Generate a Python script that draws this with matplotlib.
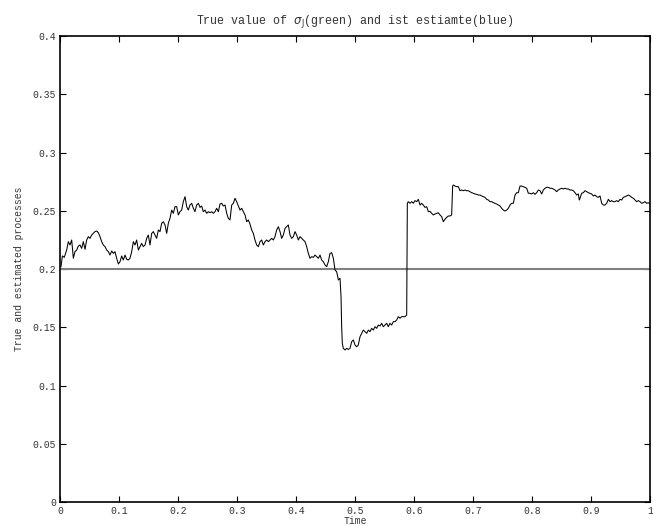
import numpy as np
import matplotlib
matplotlib.use("Agg")
import matplotlib.pyplot as plt

# true value of sigma_J (constant)
sigma_true = 0.2

# estimated sigma_J
t_est = [0.0017, 0.0040, 0.0073, 0.0113, 0.0141, 0.0169, 0.0198, 0.0226, 0.0254, 0.0282,
         0.0311, 0.0339, 0.0367, 0.0395, 0.0424, 0.0452, 0.0480, 0.0508, 0.0537, 0.0565,
         0.0593, 0.0621, 0.0650, 0.0678, 0.0706, 0.0734, 0.0763, 0.0791, 0.0819, 0.0847,
         0.0876, 0.0904, 0.0932, 0.0960, 0.0989, 0.1017, 0.1045, 0.1073, 0.1102, 0.1130,
         0.1158, 0.1186, 0.1215, 0.1243, 0.1271, 0.1299, 0.1328, 0.1356, 0.1384, 0.1412,
         0.1441, 0.1469, 0.1497, 0.1525, 0.1554, 0.1582, 0.1610, 0.1638, 0.1667, 0.1695,
         0.1723, 0.1751, 0.1780, 0.1808, 0.1836, 0.1864, 0.1893, 0.1921, 0.1949, 0.1977,
         0.2006, 0.2034, 0.2062, 0.2090, 0.2119, 0.2147, 0.2175, 0.2203, 0.2232, 0.2260,
         0.2288, 0.2316, 0.2345, 0.2373, 0.2401, 0.2429, 0.2458, 0.2486, 0.2514, 0.2542,
         0.2571, 0.2599, 0.2627, 0.2655, 0.2684, 0.2712, 0.2740, 0.2768, 0.2797, 0.2825,
         0.2853, 0.2881, 0.2910, 0.2938, 0.2966, 0.2994, 0.3023, 0.3051, 0.3079, 0.3107,
         0.3136, 0.3164, 0.3192, 0.3220, 0.3249, 0.3277, 0.3305, 0.3333, 0.3362, 0.3390,
         0.3418, 0.3446, 0.3475, 0.3503, 0.3531, 0.3559, 0.3588, 0.3616, 0.3644, 0.3672,
         0.3701, 0.3729, 0.3757, 0.3785, 0.3814, 0.3842, 0.3870, 0.3898, 0.3927, 0.3955,
         0.3983, 0.4011, 0.4040, 0.4068, 0.4096, 0.4124, 0.4153, 0.4181, 0.4209, 0.4237,
         0.4266, 0.4294, 0.4322, 0.4350, 0.4379, 0.4407, 0.4435, 0.4463, 0.4492, 0.4520,
         0.4548, 0.4576, 0.4605, 0.4633, 0.4661, 0.4689, 0.4718, 0.4746, 0.4763, 0.4774,
         0.4785, 0.4802, 0.4831, 0.4859, 0.4887, 0.4915, 0.4944, 0.4972, 0.5000, 0.5028,
         0.5056, 0.5085, 0.5113, 0.5141, 0.5169, 0.5198, 0.5226, 0.5254, 0.5282, 0.5311,
         0.5339, 0.5367, 0.5395, 0.5424, 0.5452, 0.5480, 0.5508, 0.5537, 0.5565, 0.5593,
         0.5621, 0.5650, 0.5678, 0.5706, 0.5734, 0.5763, 0.5791, 0.5819, 0.5847, 0.5876,
         0.5887, 0.5904, 0.5932, 0.5960, 0.5989, 0.6017, 0.6045, 0.6073, 0.6102, 0.6130,
         0.6158, 0.6186, 0.6215, 0.6243, 0.6271, 0.6299, 0.6328, 0.6356, 0.6384, 0.6412,
         0.6441, 0.6469, 0.6497, 0.6525, 0.6554, 0.6582, 0.6610, 0.6638, 0.6655, 0.6667,
         0.6695, 0.6723, 0.6751, 0.6780, 0.6808, 0.6836, 0.6864, 0.6893, 0.6921, 0.6949,
         0.6977, 0.7006, 0.7034, 0.7062, 0.7090, 0.7119, 0.7147, 0.7175, 0.7203, 0.7232,
         0.7260, 0.7288, 0.7316, 0.7345, 0.7373, 0.7401, 0.7429, 0.7458, 0.7486, 0.7514,
         0.7542, 0.7571, 0.7599, 0.7627, 0.7655, 0.7684, 0.7712, 0.7740, 0.7768, 0.7797,
         0.7825, 0.7853, 0.7881, 0.7910, 0.7938, 0.7966, 0.7994, 0.8023, 0.8051, 0.8079,
         0.8107, 0.8136, 0.8164, 0.8192, 0.8220, 0.8249, 0.8277, 0.8305, 0.8333, 0.8362,
         0.8390, 0.8418, 0.8446, 0.8475, 0.8503, 0.8531, 0.8559, 0.8588, 0.8616, 0.8644,
         0.8672, 0.8701, 0.8729, 0.8757, 0.8785, 0.8802, 0.8814, 0.8842, 0.8870, 0.8898,
         0.8927, 0.8955, 0.8983, 0.9011, 0.9040, 0.9068, 0.9096, 0.9124, 0.9153, 0.9181,
         0.9209, 0.9237, 0.9266, 0.9294, 0.9322, 0.9350, 0.9379, 0.9407, 0.9435, 0.9463,
         0.9492, 0.9520, 0.9548, 0.9576, 0.9605, 0.9633, 0.9661, 0.9689, 0.9718, 0.9746,
         0.9774, 0.9802, 0.9831, 0.9859, 0.9887, 0.9915, 0.9944, 0.9972, 1.0000]

sigma_est = [0.2020, 0.2112, 0.2100, 0.2163, 0.2235, 0.2206, 0.2249, 0.2092, 0.2149, 0.2163,
             0.2197, 0.2206, 0.2177, 0.2235, 0.2169, 0.2249, 0.2278, 0.2263, 0.2292, 0.2306,
             0.2321, 0.2326, 0.2312, 0.2278, 0.2235, 0.2206, 0.2192, 0.2163, 0.2149, 0.2120,
             0.2155, 0.2134, 0.2149, 0.2092, 0.2043, 0.2063, 0.2112, 0.2077, 0.2120, 0.2083,
             0.2077, 0.2092, 0.2149, 0.2235, 0.2206, 0.2249, 0.2163, 0.2192, 0.2220, 0.2192,
             0.2206, 0.2263, 0.2292, 0.2206, 0.2306, 0.2321, 0.2292, 0.2263, 0.2335, 0.2321,
             0.2392, 0.2406, 0.2378, 0.2306, 0.2392, 0.2435, 0.2506, 0.2478, 0.2535, 0.2535,
             0.2464, 0.2492, 0.2506, 0.2578, 0.2621, 0.2535, 0.2506, 0.2549, 0.2564, 0.2521,
             0.2492, 0.2549, 0.2564, 0.2529, 0.2541, 0.2492, 0.2506, 0.2478, 0.2492, 0.2483,
             0.2492, 0.2478, 0.2492, 0.2521, 0.2492, 0.2558, 0.2564, 0.2541, 0.2549, 0.2478,
             0.2435, 0.2421, 0.2549, 0.2564, 0.2607, 0.2578, 0.2541, 0.2506, 0.2521, 0.2492,
             0.2464, 0.2406, 0.2421, 0.2386, 0.2335, 0.2306, 0.2249, 0.2206, 0.2192, 0.2235,
             0.2249, 0.2206, 0.2235, 0.2249, 0.2235, 0.2249, 0.2263, 0.2249, 0.2278, 0.2335,
             0.2363, 0.2321, 0.2263, 0.2292, 0.2349, 0.2363, 0.2378, 0.2292, 0.2263, 0.2278,
             0.2321, 0.2292, 0.2249, 0.2278, 0.2263, 0.2249, 0.2235, 0.2192, 0.2134, 0.2092,
             0.2106, 0.2100, 0.2120, 0.2106, 0.2092, 0.2120, 0.2077, 0.2063, 0.2035, 0.2020,
             0.2063, 0.2134, 0.2140, 0.2092, 0.1991, 0.1977, 0.1906, 0.1920, 0.1763, 0.1505,
             0.1362, 0.1319, 0.1305, 0.1319, 0.1310, 0.1319, 0.1376, 0.1391, 0.1348, 0.1333,
             0.1348, 0.1419, 0.1448, 0.1476, 0.1462, 0.1448, 0.1476, 0.1462, 0.1491, 0.1476,
             0.1505, 0.1491, 0.1519, 0.1511, 0.1534, 0.1505, 0.1519, 0.1534, 0.1505, 0.1534,
             0.1519, 0.1548, 0.1548, 0.1562, 0.1591, 0.1577, 0.1591, 0.1591, 0.1591, 0.1605,
             0.2564, 0.2578, 0.2564, 0.2578, 0.2564, 0.2587, 0.2578, 0.2598, 0.2549, 0.2564,
             0.2549, 0.2529, 0.2535, 0.2492, 0.2495, 0.2478, 0.2464, 0.2472, 0.2478, 0.2483,
             0.2464, 0.2449, 0.2406, 0.2427, 0.2443, 0.2455, 0.2455, 0.2464, 0.2712, 0.2721,
             0.2712, 0.2707, 0.2707, 0.2672, 0.2678, 0.2672, 0.2678, 0.2672, 0.2672, 0.2664,
             0.2655, 0.2650, 0.2644, 0.2641, 0.2635, 0.2635, 0.2627, 0.2621, 0.2615, 0.2598,
             0.2592, 0.2578, 0.2578, 0.2569, 0.2564, 0.2558, 0.2549, 0.2541, 0.2521, 0.2506,
             0.2498, 0.2506, 0.2521, 0.2549, 0.2564, 0.2564, 0.2635, 0.2655, 0.2655, 0.2712,
             0.2712, 0.2707, 0.2701, 0.2693, 0.2650, 0.2650, 0.2644, 0.2655, 0.2641, 0.2655,
             0.2678, 0.2672, 0.2644, 0.2678, 0.2693, 0.2701, 0.2701, 0.2693, 0.2693, 0.2687,
             0.2678, 0.2664, 0.2678, 0.2687, 0.2693, 0.2687, 0.2693, 0.2687, 0.2687, 0.2678,
             0.2678, 0.2672, 0.2655, 0.2635, 0.2644, 0.2592, 0.2607, 0.2650, 0.2655, 0.2672,
             0.2664, 0.2655, 0.2650, 0.2644, 0.2627, 0.2635, 0.2621, 0.2615, 0.2627, 0.2564,
             0.2549, 0.2549, 0.2564, 0.2598, 0.2578, 0.2587, 0.2578, 0.2578, 0.2587, 0.2578,
             0.2598, 0.2592, 0.2615, 0.2621, 0.2627, 0.2635, 0.2627, 0.2615, 0.2607, 0.2592,
             0.2578, 0.2587, 0.2578, 0.2564, 0.2569, 0.2578, 0.2564, 0.2569, 0.2558]

x_ticks = [0, 0.1, 0.2, 0.3, 0.4, 0.5, 0.6, 0.7, 0.8, 0.9, 1]
x_labels = ["0", "0.1", "0.2", "0.3", "0.4", "0.5", "0.6", "0.7", "0.8", "0.9", "1"]
y_ticks = [0, 0.05, 0.1, 0.15, 0.2, 0.25, 0.3, 0.35, 0.4]
y_labels = ["0", "0.05", "0.1", "0.15", "0.2", "0.25", "0.3", "0.35", "0.4"]

plt.rcParams['font.family'] = ['Liberation Mono', 'DejaVu Sans']
plt.rcParams['font.size'] = 7

fig = plt.figure(figsize=(6.53, 5.27), dpi=100)
ax = fig.add_axes([0.0919, 0.0474, 0.9035, 0.8843])

ax.plot([0, 1], [sigma_true, sigma_true], color="#808080", lw=1.5)
ax.plot(t_est, sigma_est, color="black", lw=0.75)

ax.set_xlim(0, 1)
ax.set_ylim(0, 0.4)
ax.set_xticks(x_ticks)
ax.set_xticklabels(x_labels)
ax.set_yticks(y_ticks)
ax.set_yticklabels(y_labels)
ax.tick_params(direction="in", top=True, right=True, length=4, width=0.8,
               colors="black", labelcolor="#333333", pad=3)
for s in ax.spines.values():
    s.set_linewidth(1.2)

ax.set_xlabel("Time", color="#333333", labelpad=0)
ax.set_ylabel("True and estimated processes", color="#333333", labelpad=6)
ax.set_title(r"True value of $\sigma_{\rm J}$(green) and ist estiamte(blue)",
             color="#333333", pad=9)

fig.savefig("out.png", dpi=100)
